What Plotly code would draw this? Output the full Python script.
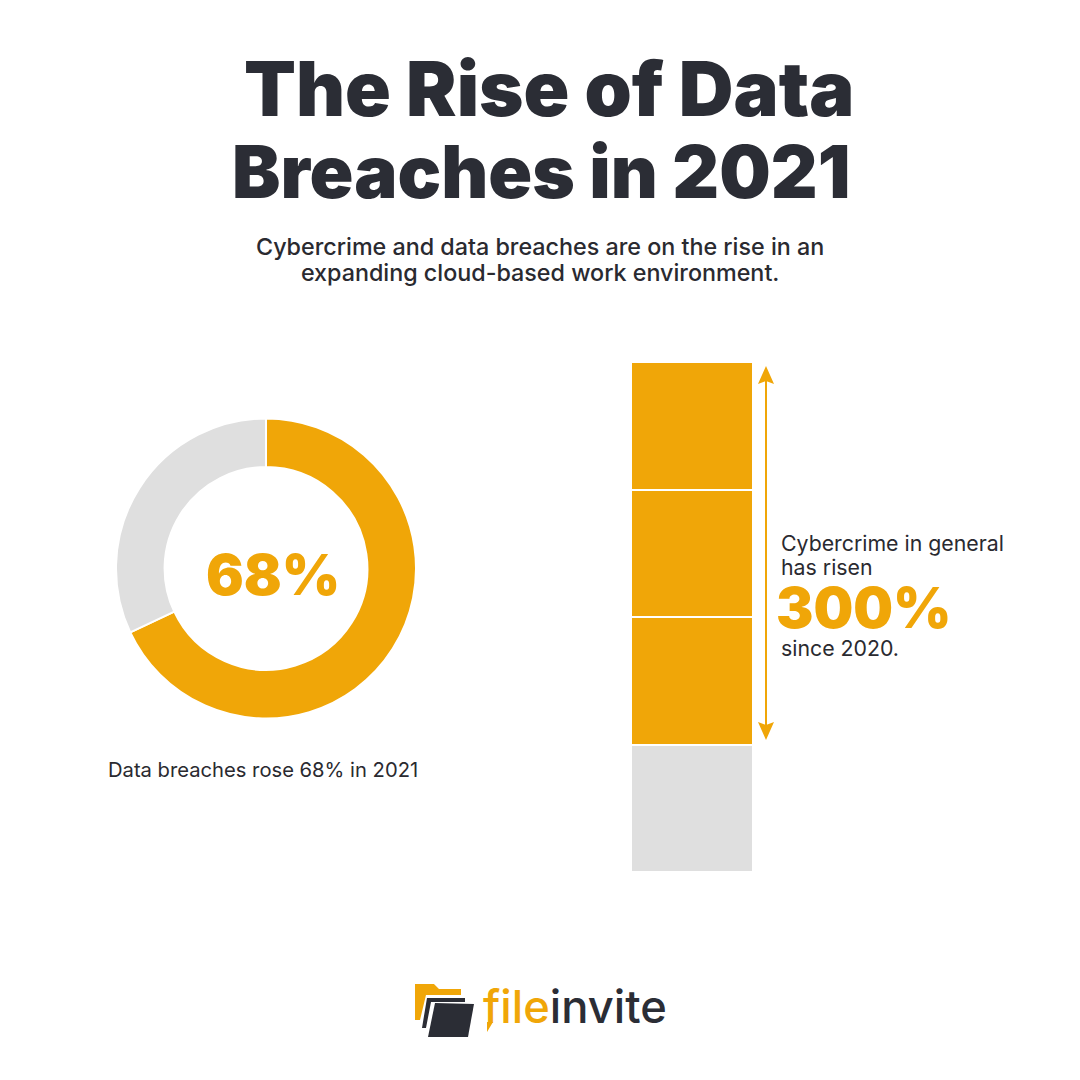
import plotly.graph_objects as go

ORANGE = "#F0A608"
DARK = "#2B2D35"
TEXT = "#2A2A30"
GREY = "#DFDFDF"
FONT = "Inter"

donut_labels = ["Rose", "Rest"]
donut_values = [68, 32]
stack_names = ["2020", "Rise 1", "Rise 2", "Rise 3"]
stack_values = [1, 1, 1, 1]
stack_colors = [GREY, ORANGE, ORANGE, ORANGE]

S = 1080.0
def X(p): return p / S
def Y(p): return 1 - p / S

fig = go.Figure()
fig.add_trace(go.Pie(
    labels=donut_labels, values=donut_values, hole=0.676, sort=False,
    direction="clockwise", rotation=0, textinfo="none", showlegend=False,
    marker=dict(colors=[ORANGE, GREY], line=dict(color="white", width=2)),
    domain=dict(x=[X(116), X(416)], y=[Y(718.5), Y(418.5)]),
))
for n, v, c in zip(stack_names, stack_values, stack_colors):
    fig.add_trace(go.Bar(x=["Cybercrime"], y=[v], name=n, width=1, showlegend=False,
                         marker=dict(color=c, line=dict(color="white", width=2))))


def txt(s, x, y, size, color=TEXT, weight=400, anchor="center"):
    fig.add_annotation(text=s, x=X(x), y=Y(y), xref="paper", yref="paper", showarrow=False,
                       xanchor=anchor, yanchor="middle", align=anchor,
                       font=dict(family=FONT, size=size, color=color, weight=weight))


txt("The Rise of Data", 549, 88, 75.7, DARK, 900)
txt("Breaches in 2021", 540.5, 171, 72.5, DARK, 900)
sub = ('<span style="font-size:23.3px">Cybercrime and data breaches are on the rise in an</span><br>'
       '<span style="font-size:23.3px">expanding cloud-based work environment.</span>')
txt(sub, 539.5, 259, 20, TEXT, 500)
txt("68%", 272.5, 575, 56, ORANGE, 900)
txt("Data breaches rose 68% in 2021", 263, 770, 20.2)
txt("Cybercrime in general", 779, 542.5, 21.3, anchor="left")
txt("has risen", 779, 566.5, 21.3, anchor="left")
txt("300%", 774, 608, 56, ORANGE, 900, anchor="left")
txt("since 2020.", 779, 647.5, 21.3, anchor="left")
txt(f'<span style="color:{ORANGE}">file</span><span style="color:{DARK}">invite</span>',
    481, 1006, 45.3, DARK, 500, anchor="left")


def path(points, color):
    d = "M" + " L".join(f"{X(a):.5f},{Y(b):.5f}" for a, b in points) + " Z"
    fig.add_shape(type="path", path=d, xref="paper", yref="paper",
                  fillcolor=color, line=dict(width=0), layer="above")


fig.add_shape(type="line", xref="paper", yref="paper", x0=X(766), x1=X(766), y0=Y(375), y1=Y(731),
              line=dict(color=ORANGE, width=2))
path([(766, 366), (774, 384), (766, 381), (758, 384)], ORANGE)
path([(766, 740), (774, 722), (766, 725), (758, 722)], ORANGE)

# logo marks
path([(415, 984), (434, 984), (439, 989), (461, 989), (461, 995), (426, 995), (420, 1020), (415, 1020)], ORANGE)
path([(427, 998), (465, 998), (465, 1002), (431, 1002), (426, 1028), (422, 1028)], DARK)
path([(435, 1003), (474, 1004), (468, 1037), (428, 1037)], DARK)
path([(487, 1022), (493, 1022), (487, 1032)], ORANGE)

fig.update_layout(
    width=1080, height=1080, margin=dict(l=0, r=0, t=0, b=0),
    paper_bgcolor="white", plot_bgcolor="white", barmode="stack", bargap=0,
    xaxis=dict(domain=[X(631), X(753)], visible=False, fixedrange=True),
    yaxis=dict(domain=[Y(872), Y(362)], range=[0, 4], visible=False, fixedrange=True),
)
fig.write_html("out.html", config={"displayModeBar": False},
               post_script="document.body.style.margin='0';")
